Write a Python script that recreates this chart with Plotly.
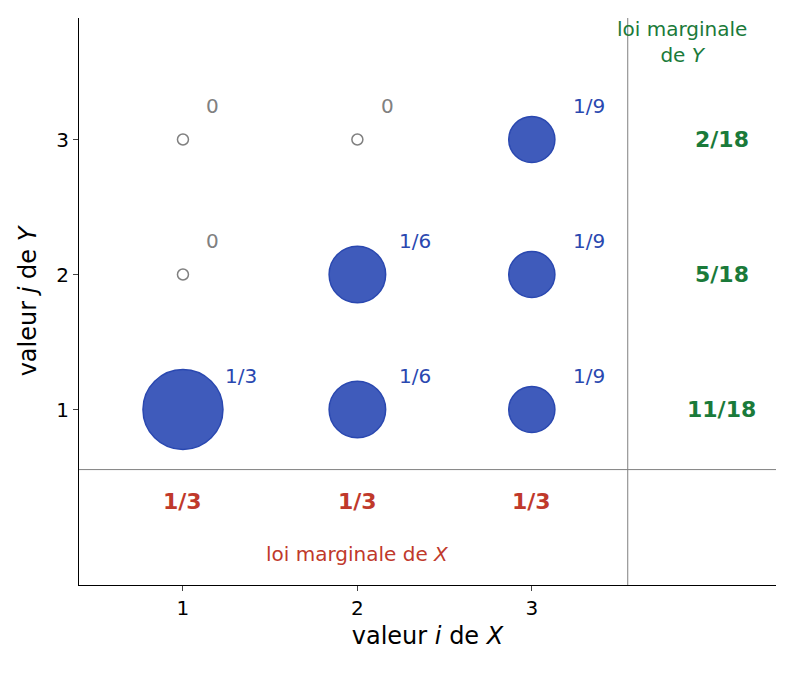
import plotly.graph_objects as go

xs = [1, 1, 1, 2, 2, 2, 3, 3, 3]
ys = [1, 2, 3, 1, 2, 3, 1, 2, 3]
probs = [1/3, 0, 0, 1/6, 1/6, 0, 1/9, 1/9, 1/9]
labels = ["1/3", "0", "0", "1/6", "1/6", "0", "1/9", "1/9", "1/9"]
marg_x = ["1/3", "1/3", "1/3"]
marg_y = ["11/18", "5/18", "2/18"]

fig = go.Figure()
nz = [i for i, p in enumerate(probs) if p > 0]
z = [i for i, p in enumerate(probs) if p == 0]
fig.add_trace(go.Scatter(
    x=[xs[i] for i in nz], y=[ys[i] for i in nz], mode="markers",
    marker=dict(size=[80 * (probs[i] * 3) ** 0.5 for i in nz], color="#3f5bbb", opacity=1,
                line=dict(color="#2a48b0", width=1.5)), hoverinfo="skip"))
fig.add_trace(go.Scatter(
    x=[xs[i] for i in z], y=[ys[i] for i in z], mode="markers",
    marker=dict(size=11, color="white", opacity=1, line=dict(color="gray", width=1.5)), hoverinfo="skip"))
for i in range(9):
    col = "gray" if probs[i] == 0 else "#2a48b0"
    fig.add_annotation(x=xs[i] + (0.17 if probs[i] == 0 else 0.33), y=ys[i] + 0.25, text=labels[i],
                       showarrow=False, font=dict(size=20, color=col))
for i, t in enumerate(marg_x):
    fig.add_annotation(x=i + 1, y=0.32, text=f"<b>{t}</b>", showarrow=False,
                       font=dict(size=22, color="#c0392b"))
for j, t in enumerate(marg_y):
    fig.add_annotation(x=4.09, y=j + 1, text=f"<b>{t}</b>", showarrow=False,
                       font=dict(size=22, color="#1a7a3a"))
fig.add_annotation(x=2.0, y=-0.07, text="loi marginale de <i>X</i>", showarrow=False,
                   font=dict(size=20, color="#c0392b"))
fig.add_annotation(x=3.86, y=3.72, text="loi marginale<br>de <i>Y</i>", showarrow=False,
                   font=dict(size=20, color="#1a7a3a"))
fig.add_shape(type="line", x0=3.55, x1=3.55, y0=-0.3, y1=3.9, line=dict(color="gray", width=1))
fig.add_shape(type="line", x0=0.404, x1=4.4, y0=0.555, y1=0.555, line=dict(color="gray", width=1))

fig.update_layout(
    width=791, height=673, margin=dict(l=71, r=23, t=10, b=96),
    plot_bgcolor="white", paper_bgcolor="white", showlegend=False,
    font=dict(family="DejaVu Sans", size=20, color="black"),
    xaxis=dict(range=[0.404, 4.4], tickvals=[1, 2, 3], showgrid=False, zeroline=False,
               showline=True, linecolor="black", ticks="outside", automargin=False,
               title=dict(text="valeur <i>i</i> de <i>X</i>", standoff=8)),
    yaxis=dict(range=[-0.3, 3.9], tickvals=[1, 2, 3], showgrid=False, zeroline=False,
               showline=True, linecolor="black", ticks="outside", automargin=False,
               title=dict(text="valeur <i>j</i> de <i>Y</i>", standoff=12)),
)
fig.write_html("out.html")
